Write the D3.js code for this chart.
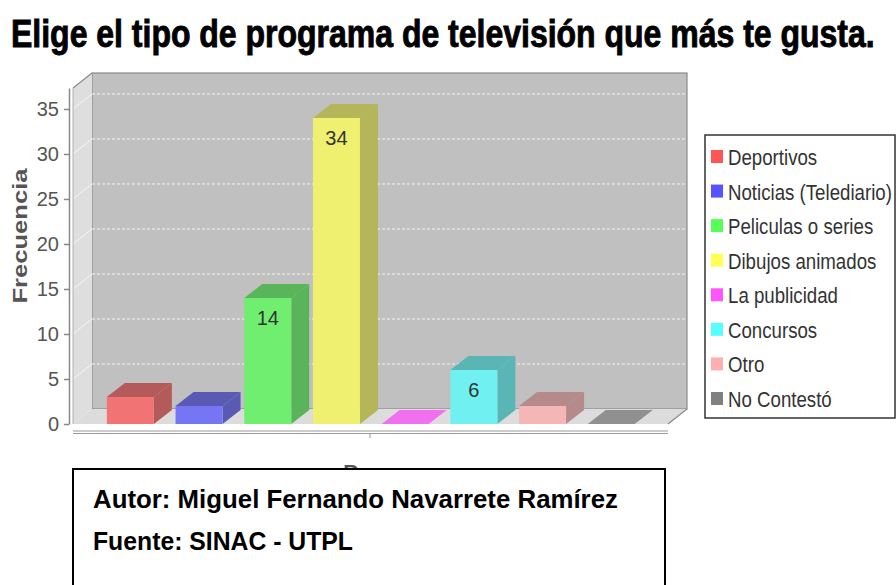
<!DOCTYPE html>
<html>
<head>
<meta charset="utf-8">
<script src="https://cdn.jsdelivr.net/npm/d3@7"></script>
<style>
  body { margin: 0; background: #fff; }
  svg { display: block; font-family: "Liberation Sans", Arial, sans-serif; }
</style>
</head>
<body>
<svg id="chart" width="896" height="585"></svg>
<script>
// datos del gráfico
const categories = ["Deportivos", "Noticias (Telediario)", "Peliculas o series", "Dibujos animados",
                    "La publicidad", "Concursos", "Otro", "No Contestó"];
const values = [3, 2, 14, 34, 0, 6, 2, 0];
const yTicks = [0, 5, 10, 15, 20, 25, 30, 35];
const legendColors = ["#ff5555", "#5555ff", "#55ff55", "#ffff55", "#ff55ff", "#55ffff", "#ffafaf", "#808080"];
const frontColors = ["#f27373", "#7676f5", "#70ee70", "#f0f070", "#f070f0", "#70f0f0", "#f4b6b6", "#909090"];
const sideColors = ["#b55a5a", "#5a5ab5", "#5ab55a", "#b5b55a", "#b55ab5", "#5ab5b5", "#b58a8a", "#707070"];
const labelMin = 5; // las barras pequeñas no llevan etiqueta

const svg = d3.select("#chart");

// ajusta un texto a un ancho dado escalando solo en horizontal
function fitWidth(sel, x0, width) {
    const w = sel.node().getComputedTextLength();
    sel.attr("transform", `translate(${x0},0) scale(${w > 0 ? width / w : 1},1)`);
}

// título (fuente condensada y gruesa)
const title = svg.append("text")
    .attr("x", 0).attr("y", 47)
    .style("font-size", "38px").style("font-weight", "bold").style("fill", "#000")
    .style("stroke", "#000").style("stroke-width", "0.9px")
    .text("Elige el tipo de programa de televisión que más te gusta.");
fitWidth(title, 11, 864);

// geometría del área 3D
const frontLeft = 73, frontRight = 668, floorY = 424;
const WDX = 19, WDY = 15;   // profundidad de las paredes
const BDX = 18, BDY = 14;   // profundidad de las barras

const y = d3.scaleLinear().domain([0, 37.33]).range([floorY, 88]);
const x = d3.scaleBand()
    .domain(categories)
    .range([96, 96 + 8 * 68.7])
    .paddingInner(0.316)
    .paddingOuter(0.158);

const topY = y.range()[1];

// pared del fondo
svg.append("rect")
    .attr("x", frontLeft + WDX).attr("y", topY - WDY)
    .attr("width", frontRight - frontLeft).attr("height", floorY - topY)
    .attr("fill", "#c0c0c0").attr("stroke", "#8a8a8a").attr("stroke-width", 1.2);

// suelo
svg.append("path")
    .attr("d", `M${frontLeft},${floorY} L${frontRight},${floorY} L${frontRight + WDX},${floorY - WDY} L${frontLeft + WDX},${floorY - WDY} Z`)
    .attr("fill", "#dcdcdc");

// pared izquierda
svg.append("path")
    .attr("d", `M${frontLeft},${topY} L${frontLeft + WDX},${topY - WDY} L${frontLeft + WDX},${floorY - WDY} L${frontLeft},${floorY} Z`)
    .attr("fill", "#dedede");

// líneas de cuadrícula
const grid = yTicks.filter(d => d > 0);
svg.selectAll(".grid")
    .data(grid)
    .enter().append("line")
    .attr("x1", frontLeft + WDX).attr("x2", frontRight + WDX)
    .attr("y1", d => y(d) - WDY).attr("y2", d => y(d) - WDY)
    .attr("stroke", "#f4f4f4").attr("stroke-width", 1)
    .attr("stroke-dasharray", "3,2");
svg.selectAll(".gridSide")
    .data(grid)
    .enter().append("line")
    .attr("x1", frontLeft).attr("x2", frontLeft + WDX)
    .attr("y1", d => y(d)).attr("y2", d => y(d) - WDY)
    .attr("stroke", "#f6f6f6").attr("stroke-width", 1);

// bordes del marco
svg.append("path")
    .attr("d", `M${frontLeft},${topY} L${frontLeft + WDX},${topY - WDY}`)
    .attr("stroke", "#8a8a8a").attr("fill", "none").attr("stroke-width", 1.2);
svg.append("path")
    .attr("d", `M${frontRight + WDX},${floorY - WDY} L${frontRight},${floorY}`)
    .attr("stroke", "#8a8a8a").attr("fill", "none").attr("stroke-width", 1.2);
svg.append("line")
    .attr("x1", frontLeft).attr("x2", frontLeft)
    .attr("y1", topY).attr("y2", floorY)
    .attr("stroke", "#b0b0b0");

// barras 3D
const data = categories.map((c, i) => ({ cat: c, value: values[i], i }));
const bars = svg.selectAll(".bar")
    .data(data)
    .enter().append("g")
    .attr("class", "bar");

bars.each(function(d) {
    const g = d3.select(this);
    const x0 = x(d.cat), x1 = x0 + x.bandwidth();
    const yt = y(d.value), yb = y(0);
    if (d.value === 0) {
        g.append("path")
            .attr("d", `M${x0},${yb} L${x1},${yb} L${x1 + BDX},${yb - BDY} L${x0 + BDX},${yb - BDY} Z`)
            .attr("fill", frontColors[d.i]);
        return;
    }
    // lado
    g.append("path")
        .attr("d", `M${x1},${yb} L${x1 + BDX},${yb - BDY} L${x1 + BDX},${yt - BDY} L${x1},${yt} Z`)
        .attr("fill", sideColors[d.i]);
    // tapa
    g.append("path")
        .attr("d", `M${x0},${yt} L${x0 + BDX},${yt - BDY} L${x1 + BDX},${yt - BDY} L${x1},${yt} Z`)
        .attr("fill", sideColors[d.i]);
    // frente
    g.append("rect")
        .attr("x", x0).attr("y", yt)
        .attr("width", x.bandwidth()).attr("height", yb - yt)
        .attr("fill", frontColors[d.i]);
});

// etiquetas de valor
svg.selectAll(".barLabel")
    .data(data.filter(d => d.value >= labelMin))
    .enter().append("text")
    .attr("x", d => x(d.cat) + x.bandwidth() / 2)
    .attr("y", d => y(d.value) + 27)
    .attr("text-anchor", "middle")
    .style("font-size", "20px").style("fill", "#333")
    .text(d => d.value);

// eje Y
const yAxis = d3.axisLeft(y).tickValues(yTicks).tickSize(5).tickSizeOuter(0).tickPadding(5);
const yg = svg.append("g")
    .attr("transform", "translate(69,0)")
    .call(yAxis);
yg.select(".domain").attr("stroke", "#888").attr("stroke-width", 1.5);
yg.selectAll(".tick line").attr("stroke", "#888").attr("stroke-width", 1.5);
yg.selectAll(".tick text")
    .style("font-size", "20px").style("fill", "#555")
    .style("font-family", "'Liberation Sans', Arial, sans-serif");

svg.append("text")
    .attr("transform", `translate(27,${(topY + floorY) / 2 - 20}) rotate(-90)`)
    .attr("text-anchor", "middle")
    .attr("textLength", 135).attr("lengthAdjust", "spacingAndGlyphs")
    .style("font-size", "21px").style("font-weight", "bold").style("fill", "#555")
    .text("Frecuencia");

// eje X (doble línea con una marca central)
[431, 433.5].forEach(yy => {
    svg.append("line")
        .attr("x1", frontLeft).attr("x2", frontRight)
        .attr("y1", yy).attr("y2", yy)
        .attr("stroke", "#999").attr("stroke-width", 1.2);
});
svg.append("line")
    .attr("x1", 370).attr("x2", 370).attr("y1", 433).attr("y2", 438)
    .attr("stroke", "#999");
svg.append("text")
    .attr("x", 376).attr("y", 479)
    .attr("text-anchor", "middle")
    .style("font-size", "21px").style("font-weight", "bold").style("fill", "#555")
    .text("Rango");

// leyenda
const legend = svg.append("g");
legend.append("rect")
    .attr("x", 705).attr("y", 135).attr("width", 190).attr("height", 283)
    .attr("fill", "#fff").attr("stroke", "#333").attr("stroke-width", 1.5);
const items = legend.selectAll(".item")
    .data(categories)
    .enter().append("g")
    .attr("transform", (d, i) => `translate(0,${157 + i * 34.57})`);
items.append("rect")
    .attr("x", 711).attr("y", -7).attr("width", 12).attr("height", 13)
    .attr("fill", (d, i) => legendColors[i]);
const legendText = items.append("text")
    .attr("x", 0).attr("y", 8)
    .style("font-size", "22px").style("fill", "#333")
    .text(d => d);
// ajustar el ancho para imitar la fuente estrecha del original
let widest = 0;
legendText.each(function(d) { if (d === "Noticias (Telediario)") widest = this.getComputedTextLength(); });
const sx = widest > 0 ? 164 / widest : 1;
legendText.attr("transform", `translate(728,0) scale(${sx},1)`);

// recuadro del autor
svg.append("rect")
    .attr("x", 73).attr("y", 469).attr("width", 592).attr("height", 130)
    .attr("fill", "#fff").attr("stroke", "#000").attr("stroke-width", 2);
const autor = svg.append("text")
    .attr("x", 0).attr("y", 508)
    .style("font-size", "25px").style("font-weight", "bold").style("fill", "#000")
    .text("Autor: Miguel Fernando Navarrete Ramírez");
fitWidth(autor, 93, 525);
const fuente = svg.append("text")
    .attr("x", 0).attr("y", 550)
    .style("font-size", "25px").style("font-weight", "bold").style("fill", "#000")
    .text("Fuente: SINAC - UTPL");
fitWidth(fuente, 93, 260);
</script>
</body>
</html>
